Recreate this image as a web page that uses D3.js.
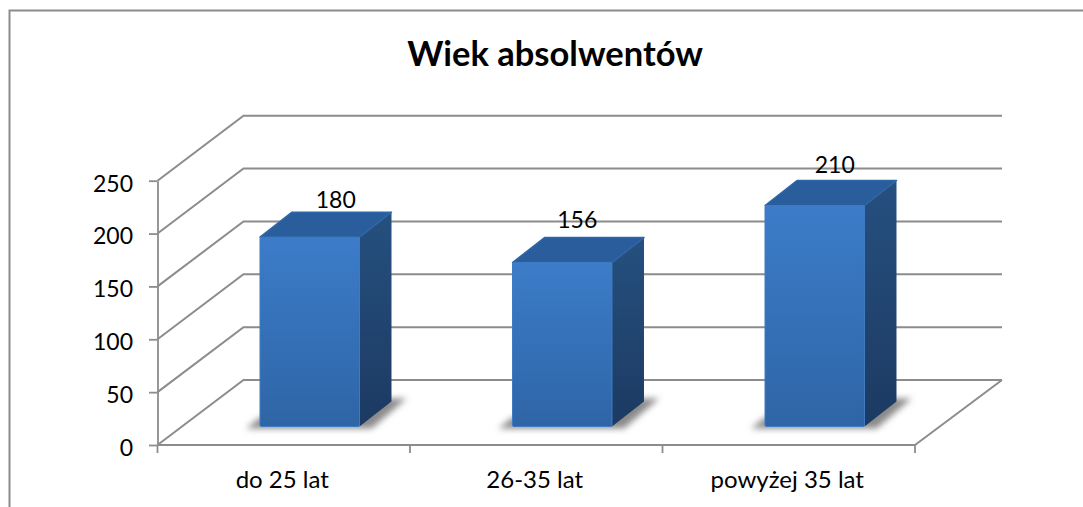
<!DOCTYPE html>
<html>
<head>
<meta charset="utf-8">
<script src="https://cdn.jsdelivr.net/npm/d3@7"></script>
<style>
html, body { margin: 0; padding: 0; background: #fff; }
svg { display: block; }
text { font-family: Lato, "Open Sans", sans-serif; fill: #000; }
</style>
</head>
<body>
<div id="chart"></div>
<script>
// data
const categories = ["do 25 lat", "26-35 lat", "powyżej 35 lat"];
const graduates = [180, 156, 210];
const yTicks = [0, 50, 100, 150, 200, 250];
const chartTitle = "Wiek absolwentów";

const width = 1083, height = 507;
const axisColor = "#8c8c8c";

// front plane of the fake 3d box, and how far the back wall sits from it
const plot = {left: 157.5, right: 915, top: 180.7, bottom: 445};
const wall = {dx: 86, dy: -65};
// where the bars sit inside that depth
const barFront = {dx: 26, dy: -18.5};
const barDepth = {dx: 32, dy: -25};

var x = d3.scaleBand().domain(categories).range([plot.left, plot.right]).paddingInner(0.606).paddingOuter(0.303);
var y = d3.scaleLinear().domain([0, 250]).range([plot.bottom, plot.top]);

var svg = d3.select("#chart").append("svg")
    .attr("width", width)
    .attr("height", height);

var defs = svg.append("defs");

function addGradient(id, from, to) {
    var g = defs.append("linearGradient").attr("id", id)
        .attr("x1", 0).attr("y1", 0).attr("x2", 0).attr("y2", 1);
    g.append("stop").attr("offset", "0%").attr("stop-color", from);
    g.append("stop").attr("offset", "100%").attr("stop-color", to);
}
addGradient("frontFill", "#3c7cc9", "#2e65a6");
addGradient("sideFill", "#26507f", "#1c3a62");

defs.append("filter").attr("id", "shadowBlur")
    .attr("x", "-30%").attr("y", "-60%").attr("width", "160%").attr("height", "220%")
    .append("feGaussianBlur").attr("stdDeviation", 3.2);
defs.append("filter").attr("id", "soft")
    .attr("filterUnits", "userSpaceOnUse").attr("x", 0).attr("y", 0).attr("width", width).attr("height", height)
    .append("feGaussianBlur").attr("stdDeviation", 0.4);

// chart frame, only top and left are visible in the crop
svg.append("path")
    .attr("d", "M9.5," + height + "V10.5H" + width)
    .attr("fill", "none").attr("stroke", axisColor).attr("stroke-width", 2);

svg.append("text")
    .attr("x", 555).attr("y", 66)
    .attr("text-anchor", "middle")
    .style("font-size", "34.5px").style("font-weight", 700)
    .text(chartTitle);

// walls and floor
var grid = svg.append("g").attr("filter", "url(#soft)")
    .attr("fill", "none").attr("stroke", axisColor).attr("stroke-width", 2);

grid.selectAll("path.grid")
    .data(yTicks)
    .enter()
    .append("path")
    .attr("class", "grid")
    .attr("d", function(d) {
        return "M" + plot.left + "," + y(d) + "l" + wall.dx + "," + wall.dy + "H" + (plot.right + wall.dx + 1);
    });

grid.append("path")
    .attr("d", "M" + plot.right + "," + plot.bottom + "l" + (wall.dx + 1) + "," + wall.dy);

// axes
var yAxis = svg.append("g")
    .attr("transform", "translate(" + plot.left + ",0)")
    .call(d3.axisLeft(y).tickValues(yTicks).tickSize(8.5).tickSizeOuter(0).tickPadding(16));

var xAxis = svg.append("g")
    .attr("transform", "translate(0," + plot.bottom + ")")
    .call(d3.axisBottom(x).tickSize(0).tickPadding(0));

xAxis.selectAll(".tick text").attr("y", 43).attr("dy", 0).attr("transform", "translate(-1.5,0)");

// category boundaries, bands are not what d3 ticks at
xAxis.selectAll("line.sep")
    .data(d3.range(categories.length + 1))
    .enter()
    .append("line")
    .attr("class", "sep")
    .attr("x1", function(i) { return plot.left + i * (plot.right - plot.left) / categories.length; })
    .attr("x2", function(i) { return plot.left + i * (plot.right - plot.left) / categories.length; })
    .attr("y1", 0).attr("y2", 8);

svg.selectAll(".domain, .tick line, line.sep")
    .attr("stroke", axisColor).attr("stroke-width", 1.8);
xAxis.select(".domain").attr("d", "M" + plot.left + ",0H" + plot.right);
xAxis.selectAll(".tick text").style("font-size", "24px").attr("fill", "#000");
yAxis.selectAll(".tick text").style("font-size", "23px").attr("fill", "#000").attr("dy", "0.45em");

// bars
var bars = svg.selectAll("g.bar")
    .data(categories.map(function(c, i) { return {name: c, value: graduates[i]}; }))
    .enter()
    .append("g")
    .attr("class", "bar");

function geom(d) {
    var x0 = x(d.name) + barFront.dx,
        x1 = x0 + x.bandwidth(),
        base = y(0) + barFront.dy,
        top = y(d.value) + barFront.dy + 1;
    return {x0: x0, x1: x1, base: base, top: top};
}

bars.append("polygon")
    .attr("fill", "#8a8a8a")
    .attr("filter", "url(#shadowBlur)")
    .attr("points", function(d) {
        var g = geom(d);
        return [[g.x0 - 14, g.base + 2], [g.x0, g.base - 9], [g.x1 + barDepth.dx, g.base + barDepth.dy - 3],
                [g.x1 + barDepth.dx + 15, g.base + barDepth.dy - 3], [g.x1 + 12, g.base + 2]].join(" ");
    });

bars.append("polygon")
    .attr("fill", "url(#sideFill)")
    .attr("points", function(d) {
        var g = geom(d);
        return [[g.x1, g.top], [g.x1 + barDepth.dx, g.top + barDepth.dy],
                [g.x1 + barDepth.dx, g.base + barDepth.dy], [g.x1, g.base]].join(" ");
    });

bars.append("polygon")
    .attr("fill", "#2a5d9b")
    .attr("stroke", "#2f66a8").attr("stroke-width", 1.5).attr("stroke-linejoin", "round")
    .attr("points", function(d) {
        var g = geom(d);
        return [[g.x0, g.top], [g.x0 + barDepth.dx, g.top + barDepth.dy],
                [g.x1 + barDepth.dx, g.top + barDepth.dy], [g.x1, g.top]].join(" ");
    });

bars.append("rect")
    .attr("x", function(d) { return geom(d).x0; })
    .attr("y", function(d) { return geom(d).top; })
    .attr("width", x.bandwidth())
    .attr("height", function(d) { var g = geom(d); return g.base - g.top; })
    .attr("rx", 1.5)
    .attr("fill", "url(#frontFill)")
    .attr("stroke", "#3f7bc2").attr("stroke-width", 1);

// labels were dragged by hand in the original, so they are not quite even
const labelNudge = [[26, -29], [15, -35], [20, -32]];

bars.append("text")
    .attr("x", function(d, i) { return (geom(d).x0 + geom(d).x1) / 2 + labelNudge[i][0]; })
    .attr("y", function(d, i) { return geom(d).top + labelNudge[i][1]; })
    .attr("text-anchor", "middle")
    .style("font-size", "23px")
    .text(function(d) { return d.value; });
</script>
</body>
</html>
